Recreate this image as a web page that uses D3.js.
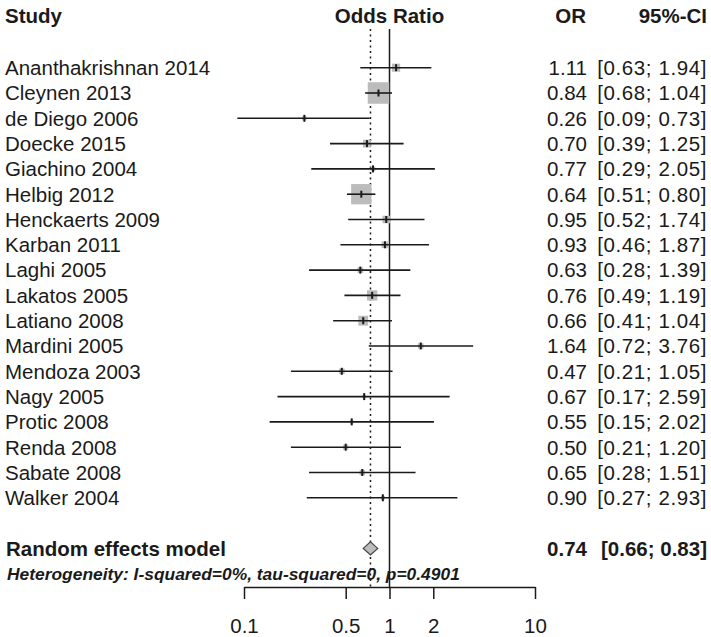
<!DOCTYPE html>
<html>
<head>
<meta charset="utf-8">
<script src="https://cdn.jsdelivr.net/npm/d3@7"></script>
<style>
  html, body { margin: 0; padding: 0; background: #fff; }
  svg { display: block; font-family: "Liberation Sans", Arial, Helvetica, sans-serif; }
</style>
</head>
<body>
<svg id="chart" width="711" height="637"></svg>
<script>
// ---- data ----
const studies = ["Ananthakrishnan 2014","Cleynen 2013","de Diego 2006","Doecke 2015","Giachino 2004","Helbig 2012","Henckaerts 2009","Karban 2011","Laghi 2005","Lakatos 2005","Latiano 2008","Mardini 2005","Mendoza 2003","Nagy 2005","Protic 2008","Renda 2008","Sabate 2008","Walker 2004"];
const orValues = [1.11,0.84,0.26,0.70,0.77,0.64,0.95,0.93,0.63,0.76,0.66,1.64,0.47,0.67,0.55,0.50,0.65,0.90];
const ciLower  = [0.63,0.68,0.09,0.39,0.29,0.51,0.52,0.46,0.28,0.49,0.41,0.72,0.21,0.17,0.15,0.21,0.28,0.27];
const ciUpper  = [1.94,1.04,0.73,1.25,2.05,0.80,1.74,1.87,1.39,1.19,1.04,3.76,1.05,2.59,2.02,1.20,1.51,2.93];
const weights  = [4.3,30.1,1.2,4.0,1.4,26.9,3.7,2.8,2.1,6.9,6.3,2.0,2.1,0.7,0.8,1.8,1.9,1.0];
const summaryLabel = "Random effects model";
const summaryOR = 0.74, summaryLower = 0.66, summaryUpper = 0.83;
const heterogeneityText = "Heterogeneity: I-squared=0%, tau-squared=0, p=0.4901";
const tickValues = [0.1, 0.5, 1, 2, 10];
const headers = {study: "Study", plot: "Odds Ratio", or: "OR", ci: "95%-CI"};

// ---- layout ----
const svg = d3.select("#chart");
const x = d3.scaleLog().domain([0.1, 10]).range([244, 535]);
const y = d3.scaleLinear().domain([0, 19]).range([67.7, 548.4]);
const box = d3.scaleSqrt().domain([0, 30.1]).range([0, 21.5]);
const fmt = d3.format(".2f");
const axisY = 587;
const ink = "#1a1a1a";
const fs = 20.5;

// headers
const hdr = svg.append("g").attr("font-weight", "bold").attr("font-size", fs).attr("fill", ink);
hdr.append("text").attr("x", 5).attr("y", 23).text(headers.study);
hdr.append("text").attr("x", x(1)).attr("y", 23).attr("text-anchor", "middle").text(headers.plot);
hdr.append("text").attr("x", 586).attr("y", 23).attr("text-anchor", "end").text(headers.or);
hdr.append("text").attr("x", 707).attr("y", 23).attr("text-anchor", "end").text(headers.ci);

// reference lines
svg.append("line").attr("x1", x(1)).attr("x2", x(1)).attr("y1", 29).attr("y2", axisY)
  .attr("stroke", ink).attr("stroke-width", 1.5);
svg.append("line").attr("x1", x(summaryOR)).attr("x2", x(summaryOR)).attr("y1", 29).attr("y2", axisY)
  .attr("stroke", ink).attr("stroke-width", 1.5).attr("stroke-dasharray", "2,3.5");

// study rows
const rows = svg.append("g").selectAll("g").data(studies).join("g");
rows.append("text").attr("x", 5).attr("y", (d, i) => y(i) + 7.3)
  .attr("font-size", fs).attr("fill", ink).text(d => d);
rows.append("rect")
  .attr("x", (d, i) => x(orValues[i]) - box(weights[i]) / 2)
  .attr("y", (d, i) => y(i) - box(weights[i]) / 2)
  .attr("width", (d, i) => box(weights[i]))
  .attr("height", (d, i) => box(weights[i]))
  .attr("fill", "#bcbcbc");
rows.append("line")
  .attr("x1", (d, i) => x(Math.max(ciLower[i], 0.09)))
  .attr("x2", (d, i) => x(ciUpper[i]))
  .attr("y1", (d, i) => y(i)).attr("y2", (d, i) => y(i))
  .attr("stroke", ink).attr("stroke-width", 1.6);
rows.append("line")
  .attr("x1", (d, i) => x(orValues[i])).attr("x2", (d, i) => x(orValues[i]))
  .attr("y1", (d, i) => y(i) - 3.5).attr("y2", (d, i) => y(i) + 3.5)
  .attr("stroke", ink).attr("stroke-width", 2);
rows.append("text").attr("x", 587).attr("y", (d, i) => y(i) + 7.3)
  .attr("text-anchor", "end").attr("font-size", fs).attr("fill", ink)
  .text((d, i) => fmt(orValues[i]));
rows.append("text").attr("x", 707).attr("y", (d, i) => y(i) + 7.3)
  .attr("text-anchor", "end").attr("font-size", fs).attr("fill", ink)
  .attr("letter-spacing", 0.6)
  .text((d, i) => `[${fmt(ciLower[i])}; ${fmt(ciUpper[i])}]`);

// summary
const sy = y(19);
svg.append("text").attr("x", 6).attr("y", sy + 7.3).attr("font-size", fs)
  .attr("font-weight", "bold").attr("fill", ink).text(summaryLabel);
svg.append("path")
  .attr("d", `M${x(summaryLower)},${sy} L${x(summaryOR)},${sy - 6.5} L${x(summaryUpper)},${sy} L${x(summaryOR)},${sy + 6.5} Z`)
  .attr("fill", "#bcbcbc").attr("stroke", "#444").attr("stroke-width", 1.2);
svg.append("text").attr("x", 587).attr("y", sy + 7.3).attr("text-anchor", "end")
  .attr("font-size", fs).attr("font-weight", "bold").attr("fill", ink).text(fmt(summaryOR));
svg.append("text").attr("x", 707).attr("y", sy + 7.3).attr("text-anchor", "end")
  .attr("font-size", fs).attr("font-weight", "bold").attr("fill", ink)
  .text(`[${fmt(summaryLower)}; ${fmt(summaryUpper)}]`);
svg.append("text").attr("x", 7).attr("y", 580).attr("font-size", 17.4)
  .attr("font-weight", "bold").attr("font-style", "italic").attr("fill", ink)
  .text(heterogeneityText);

// axis
const axis = d3.axisBottom(x).tickValues(tickValues).tickFormat(d3.format("~g"))
  .tickSize(12).tickSizeOuter(0).tickPadding(19);
const ag = svg.append("g").attr("transform", `translate(0,${axisY})`).call(axis);
ag.select(".domain").attr("stroke", ink).attr("stroke-width", 1.5);
ag.selectAll(".tick line").attr("stroke", ink).attr("stroke-width", 1.5);
ag.selectAll(".tick text").attr("font-size", fs).attr("fill", ink)
  .attr("font-family", "\"Liberation Sans\", Arial, sans-serif");
</script>
</body>
</html>
